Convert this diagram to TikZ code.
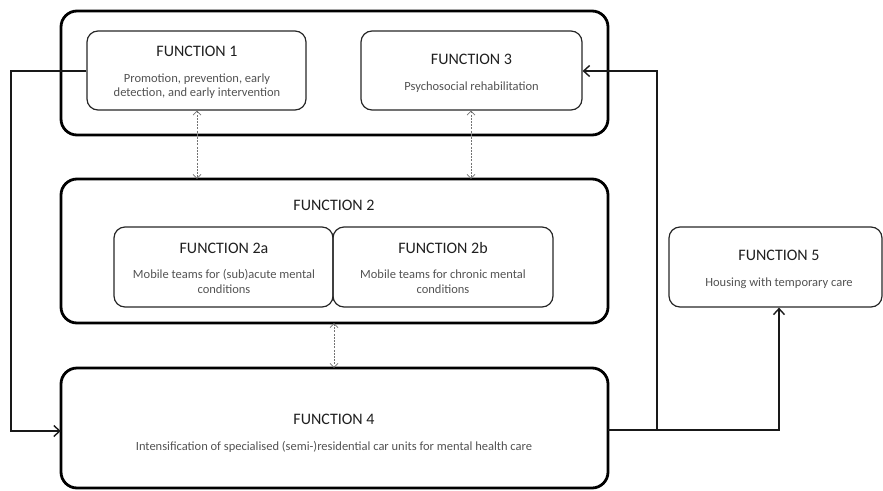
\documentclass[tikz,border=0pt]{standalone}
\usepackage{fontspec}
\setmainfont{Carlito}
\usetikzlibrary{arrows.meta}
\begin{document}
\begin{tikzpicture}[x=1pt,y=-1pt,
  outerbox/.style={draw=black,line width=2.8pt,rounded corners=16pt},
  innerbox/.style={draw=black!85,line width=1.2pt,rounded corners=11pt},
  title/.style={font=\fontsize{16}{19}\selectfont,text=black!88,inner sep=0pt},
  body/.style={font=\fontsize{12.5}{14.5}\selectfont,text=black!68,align=center,inner sep=0pt},
  flow/.style={draw=black!90,line width=1.5pt,-{Straight Barb[length=6pt,width=11pt,line width=1.4pt]}},
  link/.style={draw=black!55,line width=0.8pt,dash pattern=on 2pt off 1.2pt,
    {Straight Barb[length=4pt,width=8pt,line width=0.7pt]}-{Straight Barb[length=4pt,width=8pt,line width=0.7pt]}}
]
\useasboundingbox (0,0) rectangle (883,490);

% outer groups
\path[outerbox] (61,11) rectangle (608,135);
\node[inner sep=0pt,minimum width=547pt,minimum height=124pt] (g1) at (334.5,73) {};
\path[outerbox] (61,179) rectangle (608,323);
\node[inner sep=0pt,minimum width=547pt,minimum height=144pt] (g2) at (334.5,251) {};
\path[outerbox] (61,368) rectangle (608,488);
\node[inner sep=0pt,minimum width=547pt,minimum height=120pt] (f4) at (334.5,428) {};

% inner boxes
\node[innerbox,minimum width=219pt,minimum height=79pt] (f1) at (196.5,70.5) {};
\node[innerbox,minimum width=221pt,minimum height=79pt] (f3) at (471.5,70.5) {};
\node[innerbox,minimum width=219pt,minimum height=80pt] (f2a) at (223.5,267) {};
\node[innerbox,minimum width=220pt,minimum height=80pt] (f2b) at (443,267) {};
\node[innerbox,minimum width=213pt,minimum height=80pt] (f5) at (775.5,267) {};

% texts
\node[title] (t1) at (197,51) {FUNCTION 1};
\node[body] (b1) at (197,86) {Promotion, prevention, early\\detection, and early intervention};
\node[title] (t3) at (471.5,59) {FUNCTION 3};
\node[body] (b3) at (471.5,87) {Psychosocial rehabilitation};
\node[title] (t2) at (334,205) {FUNCTION 2};
\node[title] (t2a) at (224,248) {FUNCTION 2a};
\node[body] (b2a) at (224,281.5) {Mobile teams for (sub)acute mental\\conditions};
\node[title] (t2b) at (443,248) {FUNCTION 2b};
\node[body] (b2b) at (443,281.5) {Mobile teams for chronic mental\\conditions};
\node[title] (t5) at (779,255) {FUNCTION 5};
\node[body] (b5) at (779,283) {Housing with temporary care};
\node[title] (t4) at (334,419) {FUNCTION 4};
\node[body] (b4) at (334,446.5) {Intensification of specialised (semi-)residential car units for mental health care};

% dotted two-way links
\draw[link] (f1.south -| 197,0) -- (g2.north -| 197,0);
\draw[link] (f3.south -| 471,0) -- (g2.north -| 471,0);
\draw[link] (g2.south -| 334,0) -- (f4.north -| 334,0);

% flows
\coordinate (lt) at (11,71);
\coordinate (lb) at (11,431);
\coordinate (rj) at (657,430);
\coordinate (rt) at (657,71);
\coordinate (r5) at (779,430);
\draw[flow] (f1.west |- lt) -- (lt) -- (lb) -- (f4.west |- lb);
\draw[flow] (f4.east |- rj) -- (rj) -- (rt) -- (f3.east |- rt);
\draw[flow] (rj) -- (r5) -- (f5.south -| r5);
\end{tikzpicture}
\end{document}
